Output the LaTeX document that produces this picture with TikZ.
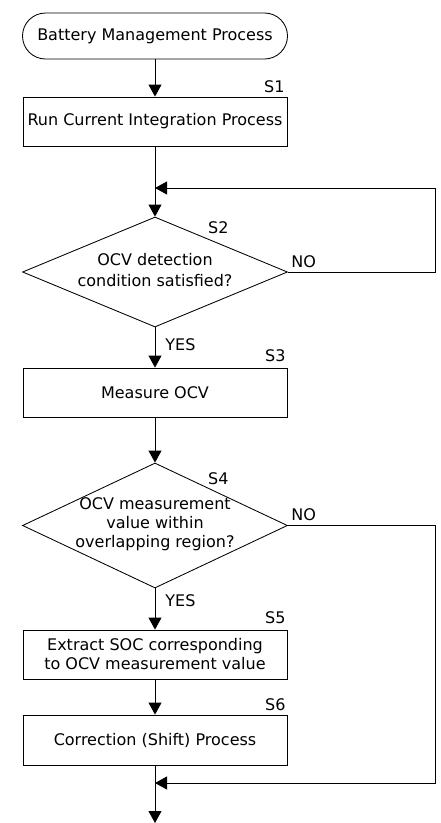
\documentclass[tikz,border=0pt]{standalone}
\usepackage{fontspec}
\setmainfont{DejaVu Sans}
\usetikzlibrary{shapes.geometric,arrows.meta}
\newcommand{\fixtext}[1]{\raisebox{-4pt}[0pt][0pt]{\makebox[0pt]{\begin{tabular}{@{}c@{}}#1\end{tabular}}}}
\begin{document}
\begin{tikzpicture}[x=1pt,y=-1pt,
  line width=0.85pt,
  every node/.style={font=\fontsize{16}{19}\selectfont},
  box/.style={draw,rectangle,minimum width=264pt,minimum height=49pt,inner sep=0pt,align=center},
  term/.style={draw,rectangle,rounded corners=23pt,minimum width=265pt,minimum height=46pt,inner sep=0pt},
  dec/.style={draw,diamond,inner sep=0pt,minimum width=265pt},
  lbl/.style={anchor=base east,inner sep=0pt},
  yn/.style={anchor=base west,inner sep=0pt},
  arr/.style={-{Triangle[width=13pt,length=12pt]}}
]
\useasboundingbox (0,0) rectangle (440,823);
\node[term] (start) at (155,36) {Battery Management Process};
\node[box] (s1) at (155,121.5) {Run Current Integration Process};
\node[dec,minimum height=110pt,font=\fontsize{16}{21}\selectfont] (s2) at (155,272) {\fixtext{OCV detection\\condition satisfied?}};
\node[box] (s3) at (155,392.5) {Measure OCV};
\node[dec,minimum height=125pt] (s4) at (155,525.5) {\fixtext{OCV measurement\\value within\\overlapping region?}};
\node[box] (s5) at (155,654.5) {Extract SOC corresponding\\to OCV measurement value};
\node[box,minimum height=50pt] (s6) at (155,740) {Correction (Shift) Process};
\coordinate (loop) at (155,188);
\coordinate (merge) at (155,783);
\coordinate (end) at (155,823);
\node[lbl] (l1) at (285,92) {S1};
\node[lbl] (l2) at (229,233) {S2};
\node[lbl] (l3) at (286,361) {S3};
\node[lbl] (l4) at (229,484) {S4};
\node[lbl] (l5) at (286,623) {S5};
\node[lbl] (l6) at (286,710) {S6};
\node[yn] (no2) at (291,267) {NO};
\node[yn] (no4) at (291,520) {NO};
\node[yn] (yes2) at (165,350) {YES};
\node[yn] (yes4) at (165,606) {YES};
\draw[arr] (start) -- (s1);
\draw[arr] (s1) -- (s2);
\draw[arr] (s2.east) -- (435,272) -- (435,188) -- (loop);
\draw[arr] (s2) -- (s3);
\draw[arr] (s3) -- (s4);
\draw[arr] (s4) -- (s5);
\draw[arr] (s5) -- (s6);
\draw[arr] (s4.east) -- (435,525.5) -- (435,783) -- (merge);
\draw[arr] (s6) -- (end);
\end{tikzpicture}
\end{document}
